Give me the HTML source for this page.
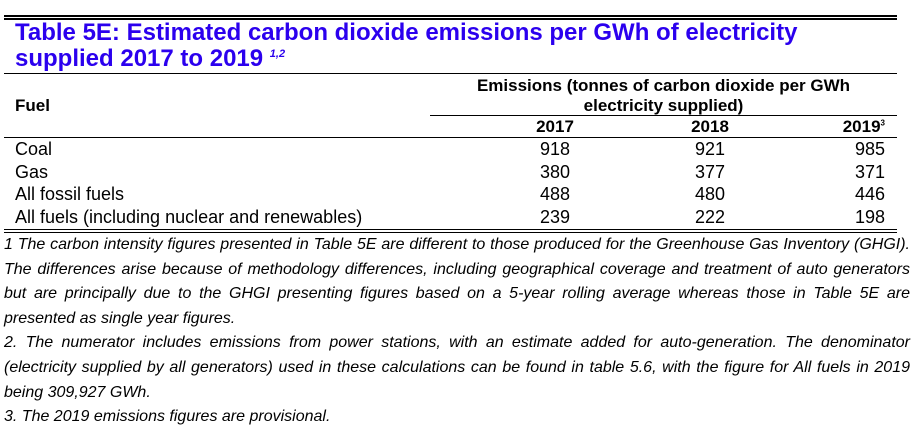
<!DOCTYPE html>
<html><head><meta charset="utf-8"><style>
body{margin:0;width:915px;height:424px;background:#fff;overflow:hidden;font-family:"Liberation Sans",Arial,sans-serif;color:#000;position:relative}
.a{position:absolute;white-space:nowrap}
.ln{position:absolute;background:#000;height:1.5px}
.t{color:#2b00ee;font-weight:bold;font-size:24px;left:15px}
.r{font-size:18px}
.h{font-size:17px;font-weight:bold}
.n{position:absolute;left:4px;width:906px;font-size:16px;font-style:italic;line-height:24px;height:24px;white-space:nowrap;text-align:justify;text-align-last:justify}
.n.e{text-align-last:left}
</style></head><body>
<div class="ln" style="left:4px;width:893px;top:15px"></div>
<div class="ln" style="left:4px;width:893px;top:18px"></div>
<div class="a t" style="top:19px">Table 5E: Estimated carbon dioxide emissions per GWh of electricity</div>
<div class="a t" style="top:45px">supplied 2017 to 2019 <sup style="font-size:11px;font-style:italic">1,2</sup></div>
<div class="ln" style="left:4px;width:893px;top:72.5px;height:1px"></div>
<div class="a h" style="left:15px;top:96px">Fuel</div>
<div class="a h" style="left:440px;width:447px;text-align:center;top:76px;line-height:20px;white-space:normal">Emissions (tonnes of carbon dioxide per GWh<br>electricity supplied)</div>
<div class="ln" style="left:430px;width:467px;top:114.5px;height:1px"></div>
<div class="a h" style="left:505px;width:100px;text-align:center;top:117px">2017</div>
<div class="a h" style="left:660px;width:100px;text-align:center;top:117px">2018</div>
<div class="a h" style="left:785px;width:100px;text-align:right;top:117px">2019<sup style="font-size:8px">3</sup></div>
<div class="ln" style="left:4px;width:893px;top:136.5px;height:1px"></div>
<div id="rows"></div>
<div class="ln" style="left:4px;width:893px;top:228.5px"></div>
<div class="ln" style="left:4px;width:893px;top:231.5px"></div>
<div>
<div class="n" style="top:233px">1 The carbon intensity figures presented in Table 5E are different to those produced for the Greenhouse Gas Inventory (GHGI).</div>
<div class="n" style="top:257.6px">The differences arise because of methodology differences, including geographical coverage and treatment of auto generators</div>
<div class="n" style="top:282.2px">but are principally due to the GHGI presenting figures based on a 5-year rolling average whereas those in Table 5E are</div>
<div class="n e" style="top:306.8px">presented as single year figures.</div>
</div>
<div>
<div class="n" style="top:331.4px">2. The numerator includes emissions from power stations, with an estimate added for auto-generation. The denominator</div>
<div class="n" style="top:356px">(electricity supplied by all generators) used in these calculations can be found in table 5.6, with the figure for All fuels in 2019</div>
<div class="n e" style="top:380.6px">being 309,927 GWh.</div>
</div>
<div class="n e" style="top:405.2px">3. The 2019 emissions figures are provisional.</div>
<script>
const fuels=["Coal","Gas","All fossil fuels","All fuels (including nuclear and renewables)"];
const v2017=[918,380,488,239];
const v2018=[921,377,480,222];
const v2019=[985,371,446,198];
const host=document.getElementById('rows');
const tops=[139,161.5,184,206.5];
fuels.forEach((f,i)=>{
  const mk=(txt,style,name)=>{const d=document.createElement('div');d.className='a r';d.style.cssText=style+';top:'+tops[i]+'px';d.textContent=txt;
    
    
    host.appendChild(d);};
  mk(f,'left:15px','fuel-label');
  mk(v2017[i],'left:505px;width:100px;text-align:center','value-2017');
  mk(v2018[i],'left:660px;width:100px;text-align:center','value-2018');
  mk(v2019[i],'left:785px;width:100px;text-align:right','value-2019');
});
</script>
</body></html>
